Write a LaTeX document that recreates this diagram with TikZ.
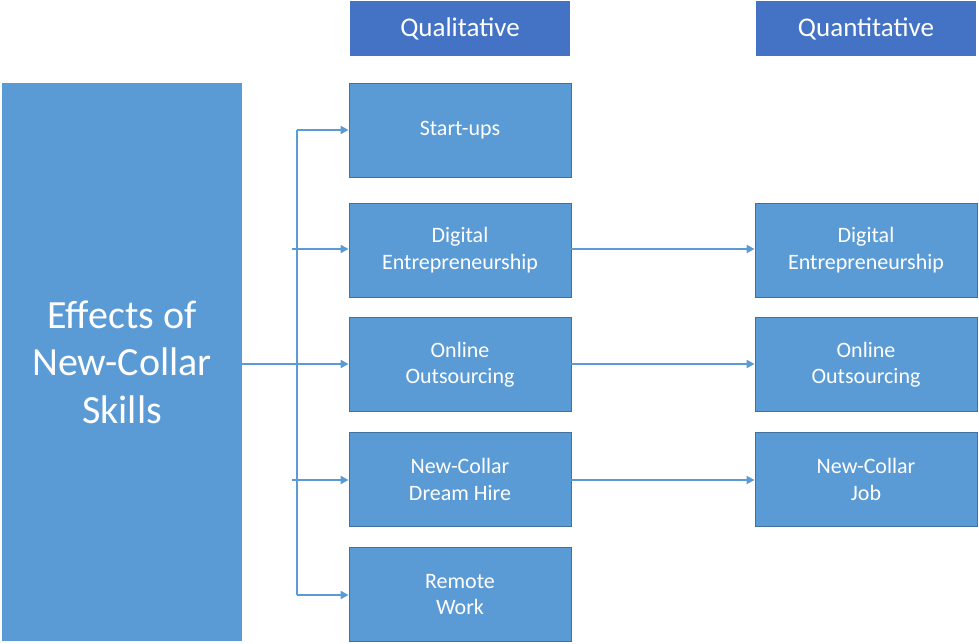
\documentclass[tikz,border=0pt]{standalone}
\usepackage{fontspec}
\setmainfont{Carlito}
\usetikzlibrary{arrows.meta}
\definecolor{boxblue}{HTML}{5B9BD5}
\definecolor{hdrblue}{HTML}{4472C4}
\definecolor{edgeblue}{HTML}{41719C}
\begin{document}
\begin{tikzpicture}[x=1pt,y=-1pt,
  bx/.style={draw=edgeblue,line width=0.8pt,fill=boxblue,text=white,minimum width=222pt,minimum height=94pt,align=center,font=\fontsize{22}{26.5}\selectfont,inner sep=0pt},
  hdr/.style={fill=hdrblue,text=white,minimum width=220pt,minimum height=55pt,font=\fontsize{27}{30}\selectfont,inner sep=0pt},
  conn/.style={draw=boxblue,line width=2.4pt,-{Triangle[length=8pt,width=8pt]}},
  thin/.style={draw=boxblue,line width=1.4pt}]
\useasboundingbox (0,0) rectangle (979,643);
\node[fill=boxblue,minimum width=240pt,minimum height=558pt,inner sep=0pt,text=white,align=center,font=\fontsize{40}{47.5}\selectfont] (main) at (122,362) {Effects of\\New-Collar\\Skills};
\node[hdr] (ql) at (460,28.5) {Qualitative};
\node[hdr] (qn) at (866,28.5) {Quantitative};
\node[bx] (a1) at (460,130) {Start-ups};
\node[bx] (a2) at (460,250) {Digital\\Entrepreneurship};
\node[bx] (a3) at (460,364.5) {Online\\Outsourcing};
\node[bx] (a4) at (460,479.5) {New-Collar\\Dream Hire};
\node[bx] (a5) at (460,594.5) {Remote\\Work};
\node[bx] (b2) at (866,250) {Digital\\Entrepreneurship};
\node[bx] (b3) at (866,364.5) {Online\\Outsourcing};
\node[bx] (b4) at (866,479.5) {New-Collar\\Job};
\coordinate (top) at (297,130);
\coordinate (bot) at (297,595);
\coordinate (s2) at (292,249);
\coordinate (s3) at (292,364);
\coordinate (s4) at (292,480);
\draw[thin] (main.east |- s3) -- (s3);
\draw[draw=boxblue,line width=2.4pt] (top) -- (bot);
\draw[conn] (top) -- (a1.west |- top);
\draw[conn] (bot) -- (a5.west |- bot);
\draw[conn] (s2) -- (a2.west |- s2);
\draw[conn] (s3) -- (a3.west |- s3);
\draw[conn] (s4) -- (a4.west |- s4);
\draw[conn] (a2.east |- s2) -- (b2.west |- s2);
\draw[conn] (a3.east |- s3) -- (b3.west |- s3);
\draw[conn] (a4.east |- s4) -- (b4.west |- s4);
\end{tikzpicture}
\end{document}
